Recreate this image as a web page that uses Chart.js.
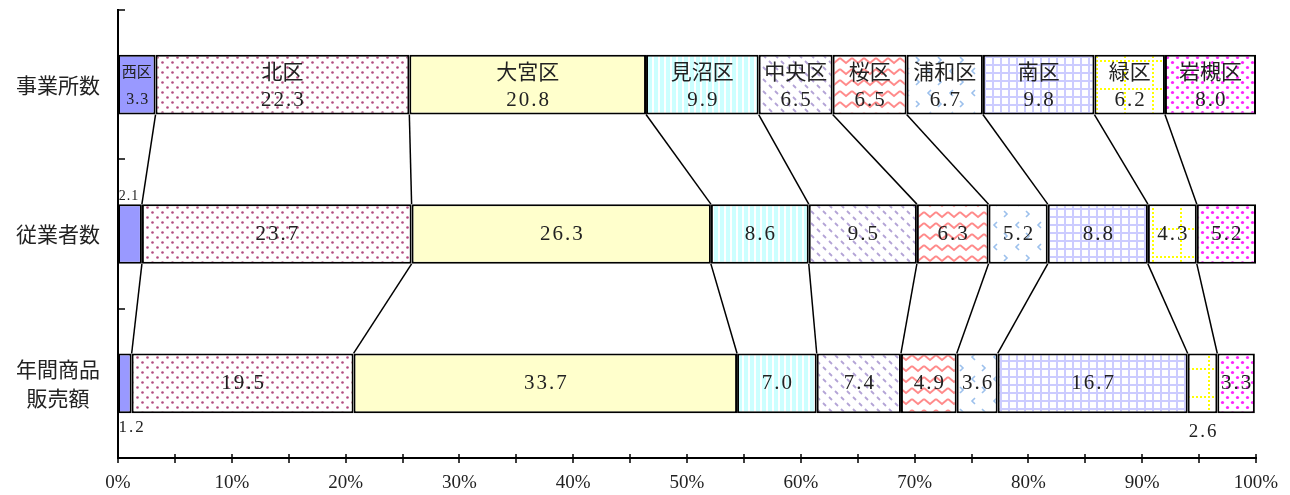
<!DOCTYPE html>
<html>
<head>
<meta charset="utf-8">
<script src="https://cdn.jsdelivr.net/npm/chart.js@4.4.1/dist/chart.umd.min.js"></script>
<style>
html,body{margin:0;padding:0;background:#fff;}
</style>
</head>
<body>
<canvas id="mychart" width="1290" height="495"></canvas>
<script>
// categories (rows) and wards (stack segments)
const categories = ['事業所数', '従業者数', ['年間商品', '販売額']];
const wards = ['西区', '北区', '大宮区', '見沼区', '中央区', '桜区', '浦和区', '南区', '緑区', '岩槻区'];

// share (%) per ward: [事業所数, 従業者数, 年間商品販売額]
const nishi   = [3.3, 2.1, 1.2];
const kita    = [22.3, 23.7, 19.5];
const omiya   = [20.8, 26.3, 33.7];
const minuma  = [9.9, 8.6, 7.0];
const chuo    = [6.5, 9.5, 7.4];
const sakura  = [6.5, 6.3, 4.9];
const urawa   = [6.7, 5.2, 3.6];
const minami  = [9.8, 8.8, 16.7];
const midori  = [6.2, 4.3, 2.6];
const iwatsuki = [8.0, 5.2, 3.3];

const xTicks = [0, 10, 20, 30, 40, 50, 60, 70, 80, 90, 100];

const seriesValues = [nishi, kita, omiya, minuma, chuo, sakura, urawa, minami, midori, iwatsuki];

const canvas = document.getElementById('mychart');
const ctx = canvas.getContext('2d');

function makePattern(w, h, bg, draw) {
    const c = document.createElement('canvas');
    c.width = w; c.height = h;
    const g = c.getContext('2d');
    if (bg) { g.fillStyle = bg; g.fillRect(0, 0, w, h); }
    draw(g);
    return ctx.createPattern(c, 'repeat');
}
function dot(g, x, y, r, col) {
    g.fillStyle = col;
    g.beginPath(); g.arc(x, y, r, 0, Math.PI * 2); g.fill();
}

const fills = [
    '#9999FF',
    // dots
    makePattern(10, 10, '#fff', g => {
        dot(g, 2.5, 2.5, 1.3, '#B24C80'); dot(g, 7.5, 7.5, 1.3, '#B24C80');
    }),
    '#FFFFCC',
    // vertical stripes
    makePattern(6, 2, '#fff', g => {
        g.fillStyle = '#CCFFFF'; g.fillRect(0, 0, 4, 2);
    }),
    // diagonal dashes
    makePattern(12, 12, '#fff', g => {
        g.strokeStyle = '#B4A4D6'; g.lineWidth = 1.8;
        g.beginPath();
        g.moveTo(1, 1); g.lineTo(4, 4);
        g.moveTo(7, 7); g.lineTo(10, 10);
        g.stroke();
    }),
    // zigzag waves
    makePattern(12, 11, '#fff', g => {
        g.strokeStyle = '#FF8A8A'; g.lineWidth = 2;
        g.beginPath();
        g.moveTo(0, 3); g.lineTo(6, 8); g.lineTo(12, 3);
        g.stroke();
    }),
    // chevrons
    makePattern(22, 22, '#fff', g => {
        g.strokeStyle = '#9CC0EC'; g.lineWidth = 1.6;
        g.beginPath();
        g.moveTo(7, 2); g.lineTo(4, 5); g.lineTo(7, 8);
        g.moveTo(14, 13); g.lineTo(17, 16); g.lineTo(14, 19);
        g.stroke();
    }),
    // grid
    makePattern(8, 8, '#fff', g => {
        g.fillStyle = '#CCCCFF';
        g.fillRect(0, 0, 8, 2); g.fillRect(0, 0, 2, 8);
    }),
    // dotted yellow grid
    makePattern(28, 28, '#fff', g => {
        g.fillStyle = '#FFFF00';
        for (let i = 0; i < 28; i += 4) {
            g.fillRect(i, 4, 2, 2);
            g.fillRect(4, i, 2, 2);
        }
    }),
    // magenta dots
    makePattern(10, 10, '#fff', g => {
        dot(g, 2.5, 2.5, 1.6, '#FF22FF'); dot(g, 7.5, 7.5, 1.6, '#FF22FF');
    })
];

const numFont = '21px "Liberation Serif", "Noto Sans CJK JP"';
const jpFont = '21px "Noto Sans CJK JP"';
const textColor = '#222';

// connector lines between stacked segments of adjacent rows
const connectorPlugin = {
    id: 'connectors',
    afterDatasetsDraw(chart) {
        const x = chart.scales.x;
        const c = chart.ctx;
        c.save();
        c.strokeStyle = '#000';
        c.lineWidth = 1.5;
        for (let r = 0; r < categories.length - 1; r++) {
            const barA = chart.getDatasetMeta(0).data[r];
            const barB = chart.getDatasetMeta(0).data[r + 1];
            const yA = barA.y + barA.height / 2;
            const yB = barB.y - barB.height / 2;
            let cumA = 0, cumB = 0;
            for (let s = 0; s < seriesValues.length - 1; s++) {
                cumA += seriesValues[s][r];
                cumB += seriesValues[s][r + 1];
                c.beginPath();
                c.moveTo(x.getPixelForValue(cumA), yA);
                c.lineTo(x.getPixelForValue(cumB), yB);
                c.stroke();
            }
        }
        c.restore();
    }
};

// value / name labels
const labelPlugin = {
    id: 'segLabels',
    afterDatasetsDraw(chart) {
        const c = chart.ctx;
        c.save();
        c.fillStyle = textColor;
        c.textAlign = 'center';
        c.textBaseline = 'middle';
        chart.data.datasets.forEach((ds, d) => {
            chart.getDatasetMeta(d).data.forEach((bar, r) => {
                const v = ds.data[r].toFixed(1);
                const cx = (bar.x + bar.base) / 2;
                const top = bar.y - bar.height / 2;
                const bottom = bar.y + bar.height / 2;
                c.letterSpacing = '2px';
                if (r === 0) {
                    if (d === 0) {
                        c.font = '15px "Noto Sans CJK JP"';
                        c.letterSpacing = '0px';
                        c.fillText(wards[d], cx, bar.y - 13);
                        c.letterSpacing = '1px';
                        c.font = '16px "Liberation Serif"';
                        c.fillText(v, cx + 1, bar.y + 15);
                    } else {
                        c.font = jpFont;
                        c.letterSpacing = '0px';
                        c.fillText(wards[d], cx, bar.y - 14);
                        c.letterSpacing = '2px';
                        c.font = numFont;
                        c.fillText(v, cx + 1, bar.y + 16);
                    }
                } else if (r === 1 && d === 0) {
                    c.font = '14px "Liberation Serif"';
                    c.letterSpacing = '1px';
                    c.fillText(v, bar.base + 11, top - 8);
                } else if (r === 2 && d === 0) {
                    c.font = '17px "Liberation Serif"';
                    c.fillText(v, bar.base + 14, bottom + 14);
                } else if (r === 2 && d === 8) {
                    c.font = '19px "Liberation Serif"';
                    c.fillText(v, cx + 1, bottom + 19);
                } else {
                    c.font = numFont;
                    c.fillText(v, cx + 1, bar.y);
                }
            });
        });
        c.restore();
    }
};

// tick marks on both axes
const tickPlugin = {
    id: 'axisTicks',
    afterDraw(chart) {
        const {x, y} = chart.scales;
        const area = chart.chartArea;
        const c = chart.ctx;
        c.save();
        c.strokeStyle = '#000';
        c.lineWidth = 1.5;
        for (let i = 0; i <= categories.length; i++) {
            const py = Math.round(y.getPixelForValue(i - 0.5));
            c.beginPath();
            c.moveTo(area.left, py); c.lineTo(area.left + 7, py);
            c.stroke();
        }
        for (let v = 0; v <= 100; v += 5) {
            const px = Math.round(x.getPixelForValue(v));
            c.beginPath();
            c.moveTo(px, area.bottom - 4); c.lineTo(px, area.bottom + 5);
            c.stroke();
        }
        c.restore();
    }
};

const chart = new Chart(ctx, {
    type: 'bar',
    data: {
        labels: categories,
        datasets: wards.map((w, i) => ({
            label: w,
            data: seriesValues[i],
            backgroundColor: fills[i],
            borderColor: '#000',
            borderWidth: 2,
            borderSkipped: false,
            categoryPercentage: 0.8,
            barPercentage: 0.5
        }))
    },
    options: {
        responsive: false,
        animation: false,
        indexAxis: 'y',
        layout: { padding: { top: 10, right: 34, left: 0, bottom: 0 } },
        plugins: {
            legend: { display: false },
            tooltip: { enabled: false }
        },
        scales: {
            x: {
                stacked: true,
                min: 0,
                max: 100,
                afterFit(scale) {
                    scale.height = 37;
                    scale.paddingLeft = 0; scale.paddingRight = 0;
                },
                afterBuildTicks(scale) { scale.ticks = xTicks.map(v => ({ value: v })); },
                grid: { display: false, drawTicks: false },
                border: { display: true, color: '#000', width: 2 },
                ticks: {
                    autoSkip: false,
                    maxRotation: 0,
                    padding: 14,
                    color: textColor,
                    font: { family: '"Liberation Serif"', size: 19 },
                    callback: v => v + '%'
                }
            },
            y: {
                stacked: true,
                afterFit(scale) {
                    scale.width = 118;
                    scale.paddingTop = 0; scale.paddingBottom = 0;
                },
                grid: { display: false, drawTicks: false },
                border: { display: true, color: '#000', width: 2 },
                ticks: {
                    padding: 18,
                    crossAlign: 'center',
                    color: textColor,
                    font: { family: '"Noto Sans CJK JP"', size: 21, lineHeight: 1.4 }
                }
            }
        }
    },
    plugins: [connectorPlugin, labelPlugin, tickPlugin]
});
</script>
</body>
</html>
